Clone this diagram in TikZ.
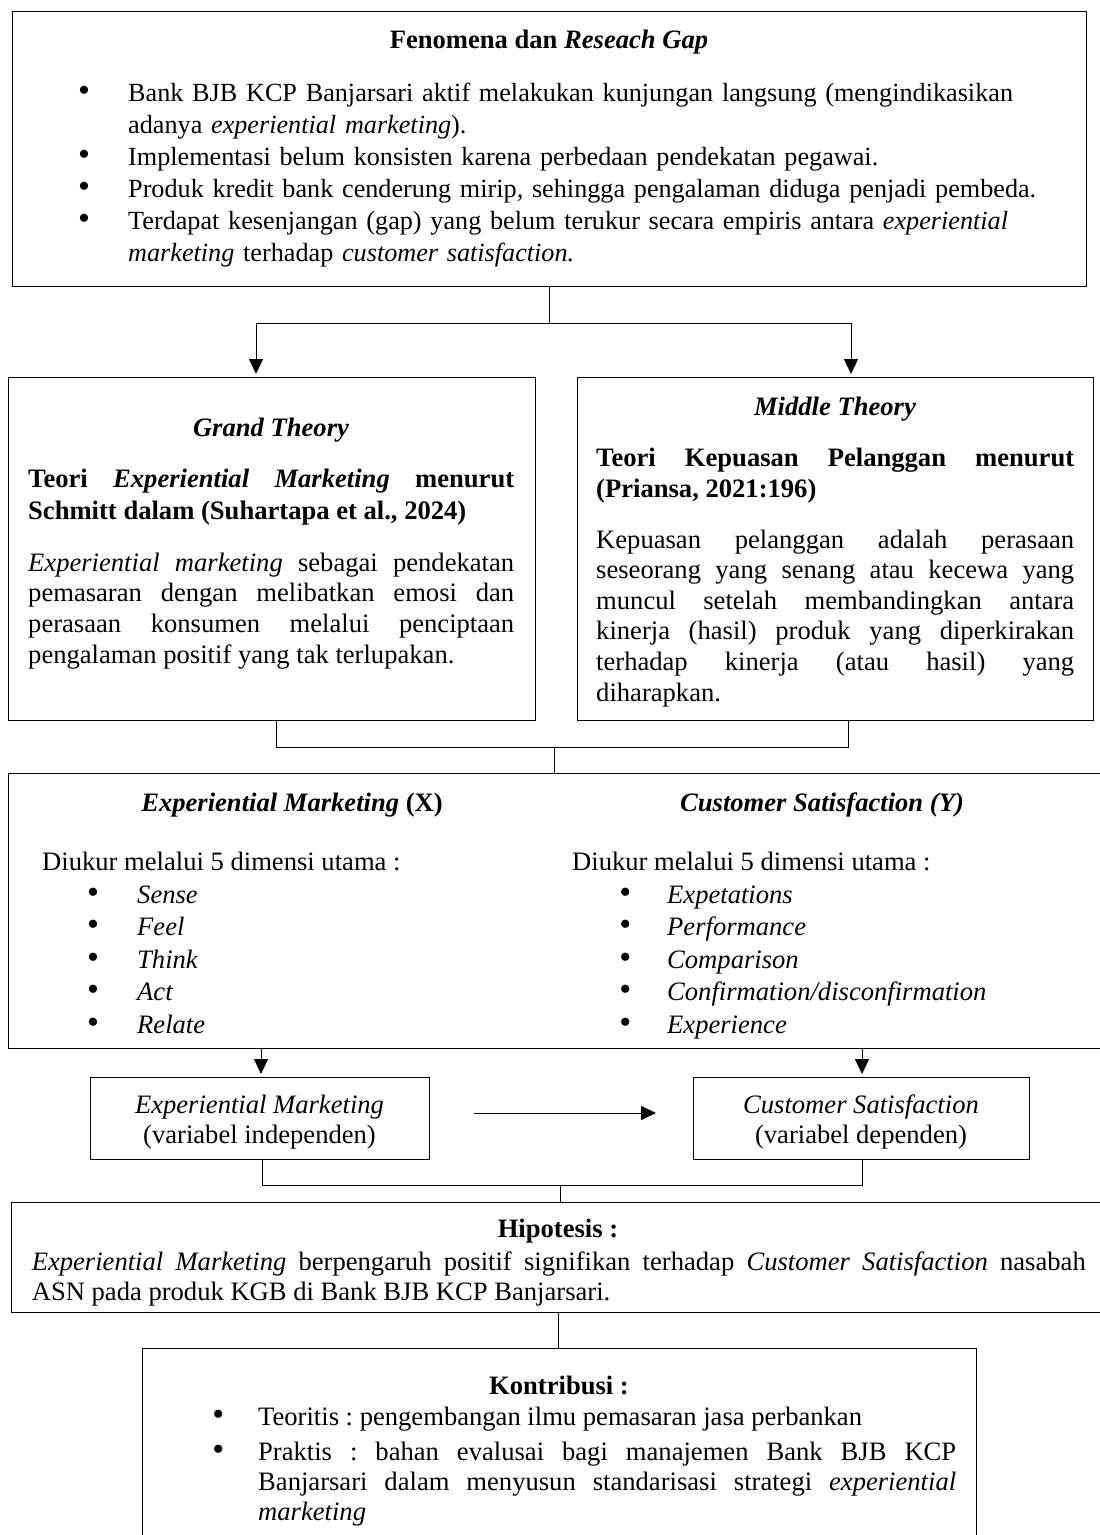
\documentclass[tikz,border=0pt]{standalone}
\usepackage{fontspec}
\setmainfont{Liberation Serif}
\usepackage{enumitem}
\usetikzlibrary{arrows.meta}
\newcommand{\fsz}{\fontsize{26.6}{32}\selectfont}
\newcommand{\bigbul}{\makebox[0pt]{\fontsize{34}{34}\selectfont\textbullet}}
\setlist[itemize]{label=\bigbul, labelwidth=0pt, itemsep=0pt, topsep=0pt, parsep=0pt, partopsep=0pt}
\frenchspacing
\begin{document}
\begin{tikzpicture}[x=1pt,y=-1pt,
  box/.style={draw, line width=1.2pt, inner sep=0pt, anchor=north west},
  conn/.style={line width=0.9pt},
  arr/.style={line width=0.9pt, -{Triangle[length=15pt,width=14pt]}, shorten >=3pt},
  txt/.style={inner sep=0pt, font=\fsz},
  para/.style={txt, anchor=base west, align=justify},
  plist/.style={txt, anchor=base west, align=left},
  ttl/.style={txt, anchor=base, font=\fsz\bfseries},
]
\useasboundingbox (0,0) rectangle (1100,1535);

% ---------- boxes ----------
\node[box, minimum width=1074pt, minimum height=275pt] (top) at (12,11) {};
\node[box, minimum width=527pt, minimum height=343pt] (grand) at (8,377) {};
\node[box, minimum width=516pt, minimum height=343pt] (midth) at (577,377) {};
\node[box, minimum width=1100pt, minimum height=275pt] (vars) at (8,773) {};
\node[box, minimum width=339pt, minimum height=82pt] (xbox) at (90,1077) {};
\node[box, minimum width=336pt, minimum height=82pt] (ybox) at (693,1077) {};
\node[box, minimum width=1100pt, minimum height=110pt] (hyp) at (10.5,1202) {};
\node[box, minimum width=834pt, minimum height=200pt] (kon) at (142,1348) {};

% ---------- top box text ----------
\node[ttl] (topT) at (549,48) {Fenomena dan \textit{Reseach Gap}};
\node[plist, text width=1000pt, font=\fontsize{26.2}{32}\selectfont] (topL) at (70,69) {%
\begin{itemize}[leftmargin=58pt, labelsep=44pt]
\item Bank BJB KCP Banjarsari aktif melakukan kunjungan langsung (mengindikasikan\newline adanya \textit{experiential marketing}).
\item Implementasi belum konsisten karena perbedaan pendekatan pegawai.
\item Produk kredit bank cenderung mirip, sehingga pengalaman diduga penjadi pembeda.
\item Terdapat kesenjangan (gap) yang belum terukur secara empiris antara \textit{experiential}\newline \textit{marketing} terhadap \textit{customer satisfaction.}
\end{itemize}};

% ---------- grand theory ----------
\node[ttl] (grandT) at (271,436) {\textit{Grand Theory}};
\node[para, text width=486pt] (grandH) at (28,487) {\textbf{Teori \textit{Experiential Marketing} menurut\linebreak Schmitt dalam (Suhartapa et al., 2024)}};
\node[para, text width=486pt, font=\fontsize{26.6}{30.7}\selectfont] (grandB) at (28,571) {\textit{Experiential marketing} sebagai pendekatan\linebreak pemasaran dengan melibatkan emosi dan\linebreak perasaan konsumen melalui penciptaan\linebreak pengalaman positif yang tak terlupakan.};

% ---------- middle theory ----------
\node[ttl] (midT) at (835,415) {\textit{Middle Theory}};
\node[para, text width=478pt, font=\fontsize{26.6}{31}\selectfont] (midH) at (596,466) {\textbf{Teori Kepuasan Pelanggan menurut\linebreak (Priansa, 2021:196)}};
\node[para, text width=478pt, font=\fontsize{26.6}{30.6}\selectfont] (midB) at (596,548) {Kepuasan pelanggan adalah perasaan\linebreak seseorang yang senang atau kecewa yang\linebreak muncul setelah membandingkan antara\linebreak kinerja (hasil) produk yang diperkirakan\linebreak terhadap kinerja (atau hasil) yang\linebreak diharapkan.};

% ---------- variables box ----------
\node[ttl] (xT) at (292,811) {\textit{Experiential Marketing} (X)};
\node[ttl] (yT) at (822,811) {\textit{Customer Satisfaction (Y)}};
\node[plist] (xD) at (42,870) {Diukur melalui 5 dimensi utama :};
\node[plist] (yD) at (572,870) {Diukur melalui 5 dimensi utama :};
\node[plist, text width=400pt, font=\fontsize{26.6}{32.5}\selectfont] (xL) at (80,870.5) {%
\begin{itemize}[leftmargin=57pt, labelsep=44pt]
\item \textit{Sense}
\item \textit{Feel}
\item \textit{Think}
\item \textit{Act}
\item \textit{Relate}
\end{itemize}};
\node[plist, text width=470pt, font=\fontsize{26.6}{32.5}\selectfont] (yL) at (612,870.5) {%
\begin{itemize}[leftmargin=55pt, labelsep=42pt]
\item \textit{Expetations}
\item \textit{Performance}
\item \textit{Comparison}
\item \textit{Confirmation/disconfirmation}
\item \textit{Experience}
\end{itemize}};

% ---------- small variable boxes ----------
\node[txt, anchor=base, align=center, font=\fontsize{26.6}{30}\selectfont] (xV) at (259.5,1143) {\textit{Experiential Marketing}\\(variabel independen)};
\node[txt, anchor=base, align=center, font=\fontsize{26.6}{30}\selectfont] (yV) at (861,1143) {\textit{Customer Satisfaction}\\(variabel dependen)};

% ---------- hypothesis ----------
\node[ttl] (hypT) at (558,1237) {Hipotesis :};
\node[para, text width=1054pt, font=\fontsize{26.6}{30}\selectfont] (hypB) at (31.6,1270) {\textit{Experiential Marketing} berpengaruh positif signifikan terhadap \textit{Customer Satisfaction} nasabah\linebreak ASN pada produk KGB di Bank BJB KCP Banjarsari.};

% ---------- contribution ----------
\node[ttl] (konT) at (559,1394) {Kontribusi :};
\node[para, text width=756pt, font=\fontsize{26.6}{30}\selectfont] (konL) at (200,1395) {%
\begin{itemize}[leftmargin=58pt, labelsep=40pt, itemsep=5pt]
\item Teoritis : pengembangan ilmu pemasaran jasa perbankan
\item Praktis : bahan evalusai bagi manajemen Bank BJB KCP\linebreak Banjarsari dalam menyusun standarisasi strategi \textit{experiential}\linebreak \textit{marketing}
\end{itemize}};

% ---------- connectors ----------
\coordinate (s1) at (256,323);
\coordinate (s2) at (851,323);
\draw[conn] (top.south) -- (top.south |- s1);
\draw[conn] (s1) -- (s2);
\draw[arr] (s1) -- (s1 |- grand.north);
\draw[arr] (s2) -- (s2 |- midth.north);

\coordinate (g1) at (276,747);
\coordinate (g2) at (848,747);
\coordinate (gm) at (554,747);
\draw[conn] (g1 |- grand.south) -- (g1) -- (g2) -- (g2 |- midth.south);
\draw[conn] (gm) -- (gm |- vars.north);

\coordinate (v1) at (261,1048);
\coordinate (v2) at (862,1048);
\draw[arr] (v1) -- (v1 |- xbox.north);
\draw[arr] (v2) -- (v2 |- ybox.north);

\coordinate (h1) at (474,1113);
\coordinate (h2) at (656,1113);
\draw[arr, shorten >=0pt] (h1) -- (h2);

\coordinate (b1) at (262,1185);
\coordinate (b2) at (862,1185);
\coordinate (bm) at (560,1185);
\draw[conn] (b1 |- xbox.south) -- (b1) -- (b2) -- (b2 |- ybox.south);
\draw[conn] (bm) -- (bm |- hyp.north);

\coordinate (k1) at (558,1312);
\draw[conn] (k1) -- (k1 |- kon.north);
\end{tikzpicture}
\end{document}
